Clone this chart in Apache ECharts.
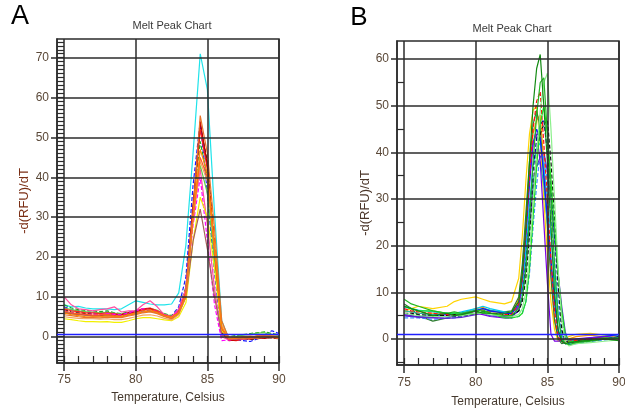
<!DOCTYPE html>
<html lang="en">
<head>
<meta charset="UTF-8">
<title>Melt Peak Chart</title>
<script src="https://cdn.jsdelivr.net/npm/echarts@6/dist/echarts.min.js"></script>
<style>
  html, body { margin: 0; padding: 0; background: #fff; }
  #main { width: 625px; height: 411px; }
</style>
</head>
<body>
<div id="main"></div>
<script type="text/javascript">
// ---- panel A: temperature steps and -d(RFU)/dT per well ----
const tempA = [75, 75.5, 76, 76.5, 77, 77.5, 78, 78.5, 79, 79.5, 80, 80.5, 81, 81.5, 82, 82.5,
               83, 83.5, 84, 84.5, 85, 85.5, 86, 86.5, 87, 87.5, 88, 88.5, 89, 89.5, 90];
const aCyan     = [8, 7.5, 7.6, 7.2, 7, 7, 7, 6.8, 7, 8, 9, 8.6, 8.2, 8, 8, 8.2, 11, 23, 46, 71, 62, 31, 4, -0.5, -0.3, -0.5, -0.4, -0.2, 0, 0.3, 0.2];
const aBlack    = [6.8, 6.2, 6, 5.8, 5.7, 5.6, 5.7, 5.5, 5.4, 5.8, 6.2, 6.8, 7, 6.4, 5.6, 5.1, 6.4, 11.5, 32, 53, 44, 23, 1.5, -0.8, -0.6, -0.4, -0.7, -0.5, -0.2, -0.3, -0.5];
const aBlue     = [7.5, 6.8, 6.5, 6.2, 6, 6, 6.2, 5.8, 5.5, 5.8, 6.2, 6.5, 6.5, 6, 5.5, 5.2, 7.5, 15, 38, 54, 36, 16, 0, -0.6, -0.8, -1, -1.2, -0.5, 0.5, 1.5, 0.8];
const aGreen    = [8, 7.2, 6.8, 6.6, 6.5, 6.3, 6.5, 6, 5.8, 6.2, 6.5, 7, 6.8, 6.4, 5.8, 5.3, 6.8, 12.5, 33, 49, 40, 21, 1.5, 0, 0.3, 0.5, 0.8, 1, 1.2, 0.8, 0.5];
const aLime     = [7.2, 6.8, 6.5, 6.3, 6.2, 6, 6.1, 5.9, 5.7, 6, 6.4, 6.9, 7.1, 6.6, 5.7, 5.1, 6.3, 11, 30, 43, 36, 19, 1, -0.2, 0, 0.4, 0.6, 0.9, 1, 0.6, 0.3];
const aRed      = [7, 6.5, 6.3, 6, 6, 5.8, 6, 5.8, 5.5, 6, 6.5, 7, 7.2, 6.5, 5.5, 5, 6.5, 12, 33, 52, 42, 22, 2, -0.8, -1, -0.6, -0.3, -0.5, -0.2, 0, -0.3];
const aDarkRed  = [6, 5.8, 5.6, 5.5, 5.2, 5.3, 5.5, 5.4, 5.6, 6, 6.2, 6.8, 7, 6.2, 5.2, 4.6, 6, 11, 32, 54, 43, 22, 1, -1, -0.8, -0.5, -0.6, -0.3, -0.4, -0.2, -0.5];
const aPink     = [10, 8, 7, 6.8, 6.5, 6.8, 7, 7.5, 6.2, 6.5, 6.5, 8, 9, 7.5, 5.5, 5, 7, 12, 30, 42, 28, 12, 0, -0.8, -0.5, -0.6, -0.3, 0.2, 0.5, 0.3, 0];
const aMagenta  = [6.5, 6, 5.8, 5.5, 5.6, 5.5, 5.8, 5.6, 5.5, 6, 6.5, 7, 6.8, 6.3, 5.5, 5, 6.5, 11, 28, 40, 24, 8, -1, -0.8, -0.6, -0.4, -0.5, -0.2, 0, -0.1, -0.3];
const aYellow   = [4.5, 4.3, 4, 3.8, 3.8, 3.7, 3.8, 3.6, 3.6, 4, 4.5, 4.8, 4.8, 4.5, 4.2, 4, 5, 8.5, 24, 35, 30, 17, 1.5, -0.3, -0.5, -0.2, 0, -0.3, 0, 0.2, 0];
const aRosy     = [6.2, 5.8, 5.6, 5.4, 5.2, 5.2, 5.3, 5.1, 5, 5.4, 5.8, 6.2, 6.4, 6, 5.2, 4.7, 5.8, 10, 24, 32, 22, 10, 0.5, -0.5, -0.6, -0.4, -0.5, -0.3, -0.2, 0, -0.2];
const aSalmon   = [5, 4.8, 4.6, 4.5, 4.5, 4.4, 4.5, 4.3, 4.3, 4.6, 5, 5.4, 5.5, 5.2, 4.6, 4.2, 5.5, 10, 29, 44, 39, 22, 3, 0, -0.2, 0, 0.2, -0.1, 0, 0.2, -0.1];
const aOrangeRd = [6.5, 6, 5.8, 5.6, 5.4, 5.5, 5.6, 5.3, 5.2, 5.6, 6, 6.6, 6.8, 6.2, 5.4, 4.9, 6.2, 11, 30, 45, 40, 22, 2, -0.6, -0.4, -0.2, -0.5, 0, 0.3, -0.2, -0.4];
const aOrange   = [6, 5.5, 5.3, 5, 5, 5, 5.2, 5, 5, 5.5, 5.8, 6.2, 6.5, 6, 5.2, 4.8, 6, 10.5, 30, 47, 41, 23, 2.5, -0.5, -0.3, 0, -0.2, 0.3, 0.5, 0.2, -0.2];
const aDkOrange = [5.5, 5.3, 5, 4.8, 4.8, 4.7, 4.9, 4.8, 4.8, 5.2, 5.5, 6, 6.2, 5.8, 5, 4.5, 5.8, 10, 31, 55.5, 46, 27, 4, -0.5, -0.2, -0.4, 0, -0.3, 0.2, 0, -0.4];

// ---- panel B ----
const tempB = [75, 75.5, 76, 77, 78, 78.5, 79, 80, 80.5, 81, 82, 82.5, 83, 83.25, 83.5, 83.75,
               84, 84.25, 84.5, 84.75, 85, 85.25, 85.5, 85.75, 86, 86.25, 86.5, 87, 88, 89, 90];
const bDkGreen  = [7, 6.5, 6, 5, 5.5, 5, 5.2, 6, 5.5, 5.5, 5.5, 5.8, 8, 14, 24, 38, 50, 58, 61, 50, 38, 24, 10, 2, -0.5, -1, -0.8, -0.6, -0.3, 0, -0.4];
const bGreen    = [8.5, 7.5, 7, 6, 5.5, 5.8, 5.5, 6, 6.2, 5.5, 5, 5, 6.5, 9, 15, 26, 38, 48, 55, 56, 44, 30, 16, 5, 0, -1, -1.2, -0.8, -0.5, 0, 0.3];
const bLtGreen  = [5.5, 5.2, 5, 4.8, 4.8, 5, 5, 5.5, 5.5, 5.2, 5, 4.8, 5.2, 6.5, 10, 18, 30, 40, 49, 55, 57, 45, 30, 15, 4, -0.5, -1.5, -1, -0.8, -0.5, -0.2];
const bBrGreen  = [7, 6.5, 6, 6, 5.5, 5.5, 5.2, 5.5, 5.8, 5.5, 4.5, 4.5, 4.8, 5.5, 8, 15, 26, 37, 46, 50, 44, 34, 24, 14, 6, 1, -0.5, -0.6, -0.3, 0.2, 0];
const bYellow   = [6, 6.5, 7, 6.5, 7, 8, 8.5, 9, 8.5, 8, 7.5, 8, 13, 22, 34, 44, 49, 50, 42, 30, 18, 8, 2, -0.5, -0.5, 0, 0.5, 1, 1.2, 0.8, 0.3];
const bOrange   = [6, 5.8, 5.5, 5.5, 5.5, 5.2, 5.5, 6.5, 6.8, 6, 5.5, 5.5, 8.5, 15, 25, 36, 44, 47, 48, 38, 26, 14, 4, 0, -0.5, -0.3, 0, 0.5, 0.8, 0.4, 0];
const bRed      = [6.5, 6, 5.8, 5.5, 5.2, 5, 5.2, 6, 6.2, 5.6, 5.2, 5.2, 7.5, 13, 23, 35, 45, 51, 53, 42, 30, 17, 6, 0.5, -0.6, -0.8, -0.5, -0.3, 0, 0.2, -0.2];
const bBlue     = [5, 4.8, 4.8, 5, 5.2, 5, 5.2, 6, 6.5, 6, 5.5, 5.4, 7.5, 13, 22, 33, 42, 45, 43, 35, 26, 17, 8, 1.5, -0.5, -1, -0.8, -0.5, 0, 0.5, 1];
const bNavy     = [5.5, 5.2, 5, 5, 4.8, 4.8, 5, 5.5, 5.8, 5.5, 5.2, 5, 6, 9, 16, 26, 36, 43, 46, 47, 40, 32, 22, 12, 4, 0, -0.8, -0.5, -0.2, 0, 0.5];
const bPurple   = [5.2, 5, 4.8, 4.6, 4.8, 5, 5, 5.5, 5.2, 4.8, 4.5, 4.5, 7, 13, 24, 35, 42, 44, 38, 25, 12, 1, -0.5, -0.5, -0.3, 0, -0.2, 0, 0.3, 0.5, 0.2];
const bBlack    = [5.5, 5.5, 5.2, 5, 5, 5.2, 5, 5.5, 5.8, 5.5, 5.2, 5.2, 6, 8, 13, 22, 32, 40, 44, 46, 47, 38, 26, 12, 2, -0.5, -0.8, -0.5, -0.3, 0, 0.2];
const bCyan     = [6.8, 6.5, 6.2, 5.8, 5.5, 5.5, 5.8, 6.5, 7, 6.5, 5.8, 5.5, 7, 11, 19, 29, 37, 41, 42, 37, 30, 22, 13, 5, 0, -0.8, -1, -0.6, -0.4, 0, 0.4];
const bSkyBlue  = [4.5, 4.5, 4.5, 4.2, 4.5, 4.5, 4.8, 5.5, 5.5, 5, 4.5, 4.5, 4.8, 5.5, 8, 14, 24, 33, 40, 39, 34, 26, 17, 8, 1, -1, -1.3, -1, -0.6, -0.2, 0];
const bDkGreen2 = [7.5, 6.5, 5, 3.8, 4.5, 5, 5.5, 5.5, 5.8, 6, 5.8, 6, 9, 16, 27, 38, 46, 49, 45, 35, 24, 13, 4, 0, -1, -0.8, -0.5, -0.2, 0, 0.3, 0.1];
const bTeal     = [6, 5.8, 5.5, 5.2, 5.5, 5.4, 5.6, 6.2, 6.5, 6.2, 5.6, 5.5, 7, 11, 18, 27, 34, 37, 38, 33, 25, 16, 8, 2, -0.4, -0.6, -0.4, -0.2, 0.2, 0.6, 0.8];
const bViolet   = [5, 4.8, 4.6, 4.5, 4.4, 4.5, 4.6, 5.2, 5.5, 5, 4.8, 4.8, 6, 9, 15, 24, 32, 37, 39, 40, 36, 30, 22, 14, 7, 1.5, -0.8, -0.6, -0.3, 0, -0.2];

// ---- axes ----
const xMajor = [75, 80, 85, 90];
const yMajorA = [0, 10, 20, 30, 40, 50, 60, 70];
const yMajorB = [0, 10, 20, 30, 40, 50, 60];
const yMinorB = [-5, 5, 15, 25, 35, 45, 55];
const thresholdA = 0.7;
const thresholdB = 0.9;

let xMinor = [];
for (let t = 75; t <= 90; t++) xMinor.push(t);
let yMinorA = [];
for (let v = -6; v <= 74; v++) yMinorA.push(v);

const FONT = 'Liberation Sans, Arial, sans-serif';
const DARK = '#2b2b2b';
const LABEL = '#5a4838';

const grids = [
  {left: 57, top: 39, width: 222, height: 324},
  {left: 397, top: 41, width: 222, height: 324}
];

function xAxes(g, nameGap, margin) {
  return [{
    type: 'value', gridIndex: g, position: 'bottom', min: 74.5, max: 90,
    axisLine: {show: true, onZero: false, lineStyle: {color: DARK, width: 1.5}},
    axisTick: {show: true, inside: false, length: 8, customValues: xMajor, lineStyle: {color: DARK, width: 1.5}},
    axisLabel: {show: true, customValues: xMajor, margin: margin, fontSize: 12, color: LABEL, fontFamily: FONT},
    splitLine: {show: false},
    name: 'Temperature, Celsius', nameLocation: 'middle', nameGap: nameGap,
    nameTextStyle: {fontSize: 12, color: '#45392e', fontFamily: FONT}
  }, {
    type: 'value', gridIndex: g, position: 'bottom', min: 74.5, max: 90,
    axisLine: {show: false, onZero: false},
    axisTick: {show: true, inside: true, length: 7, customValues: xMinor, lineStyle: {color: DARK, width: 1.2}},
    axisLabel: {show: false},
    splitLine: {show: false}
  }];
}

function yAxes(g, ymin, ymax, major, minor, nameGap, nameColor) {
  return [{
    type: 'value', gridIndex: g, position: 'left', min: ymin, max: ymax,
    axisLine: {show: true, onZero: false, lineStyle: {color: DARK, width: 1.5}},
    axisTick: {show: true, inside: false, length: 6, customValues: major, lineStyle: {color: DARK, width: 1.5}},
    axisLabel: {show: true, customValues: major, margin: 8, fontSize: 12, color: LABEL, fontFamily: FONT},
    splitLine: {show: false},
    name: '-d(RFU)/dT', nameLocation: 'middle', nameGap: nameGap, nameRotate: 90,
    nameTextStyle: {fontSize: 13, color: nameColor, fontFamily: FONT}
  }, {
    type: 'value', gridIndex: g, position: 'left', min: ymin, max: ymax,
    axisLine: {show: false, onZero: false},
    axisTick: {show: true, inside: true, length: 7, customValues: minor, lineStyle: {color: DARK, width: 1.2}},
    axisLabel: {show: false},
    splitLine: {show: false}
  }];
}

// gridlines and the blue threshold, drawn through the axes
function gridSeries(xi, yi, yMajor, thr) {
  return {
    type: 'line', xAxisIndex: xi, yAxisIndex: yi, data: [[80, 30]], symbol: 'none',
    lineStyle: {opacity: 0}, silent: true, z: 1,
    markLine: {
      symbol: ['none', 'none'], silent: true, animation: false, label: {show: false},
      emphasis: {disabled: true},
      lineStyle: {color: DARK, width: 1.5, type: 'solid'},
      data: xMajor.map(v => ({xAxis: v}))
        .concat(yMajor.map(v => ({yAxis: v})))
        .concat([{yAxis: thr, lineStyle: {color: '#2020ff', width: 1.3, type: 'solid'}}])
    }
  };
}

function curve(temps, vals, color, dashed, xi, yi) {
  return {
    type: 'line', xAxisIndex: xi, yAxisIndex: yi, symbol: 'none', silent: true, z: 3,
    data: temps.map((t, i) => [t, vals[i]]),
    lineStyle: {color: color, width: 1.2, type: dashed ? [4, 2] : 'solid'},
    itemStyle: {color: color}
  };
}

const seriesA = [
  [aCyan, '#1fe3ea', false], [aBlack, '#222222', true], [aBlue, '#1a1aff', true],
  [aGreen, '#1ea81e', true], [aLime, '#62d244', false], [aRed, '#ff2020', false],
  [aDarkRed, '#c00000', false], [aPink, '#ff4fa3', false], [aMagenta, '#ff00ff', true],
  [aYellow, '#f2f000', false], [aRosy, '#a8605a', false], [aSalmon, '#f4a460', false],
  [aOrangeRd, '#ff5a1e', false], [aOrange, '#ff8a00', false], [aDkOrange, '#e8742a', false]
].map(s => curve(tempA, s[0], s[1], s[2], 0, 0));

const seriesB = [
  [bYellow, '#ffd400', false], [bOrange, '#ff9a00', false], [bDkGreen2, '#2e7d32', false],
  [bTeal, '#20b2aa', false], [bCyan, '#00c8f0', false], [bSkyBlue, '#3a8cff', true],
  [bBlue, '#1010ff', false], [bPurple, '#7a00e6', false], [bViolet, '#5a2ad0', false],
  [bNavy, '#000090', true], [bBlack, '#101010', true], [bRed, '#ff1010', true],
  [bBrGreen, '#20e020', false], [bLtGreen, '#8cf08c', false], [bGreen, '#22b822', false],
  [bDkGreen, '#128a12', false]
].map(s => curve(tempB, s[0], s[1], s[2], 2, 2));

let myChart = echarts.init(document.getElementById('main'), null, {renderer: 'canvas'});
option = {
  animation: false,
  backgroundColor: '#ffffff',
  grid: grids.map(g => Object.assign({
    show: true, borderColor: DARK, borderWidth: 1.5, outerBoundsMode: 'none', containLabel: false
  }, g)),
  xAxis: xAxes(0, 29, 11).concat(xAxes(1, 31, 12)),
  yAxis: yAxes(0, -6.6, 74.7, yMajorA, yMinorA, 26, '#7a2e14')
    .concat(yAxes(1, -5.6, 63.9, yMajorB, yMinorB, 20, '#4a3528')),
  graphic: [
    {type: 'text', x: 20, y: 17, style: {text: 'A', font: '27px ' + FONT, fill: '#000', textAlign: 'center', textVerticalAlign: 'middle'}},
    {type: 'text', x: 359, y: 18, style: {text: 'B', font: '26px ' + FONT, fill: '#000', textAlign: 'center', textVerticalAlign: 'middle'}},
    {type: 'text', x: 172, y: 26, style: {text: 'Melt Peak Chart', font: '11px ' + FONT, fill: '#3a3a3a', textAlign: 'center', textVerticalAlign: 'middle'}},
    {type: 'text', x: 512, y: 29, style: {text: 'Melt Peak Chart', font: '11px ' + FONT, fill: '#3a3a3a', textAlign: 'center', textVerticalAlign: 'middle'}}
  ],
  series: [gridSeries(0, 0, yMajorA, thresholdA), gridSeries(2, 2, yMajorB, thresholdB)]
    .concat(seriesA).concat(seriesB)
};
myChart.setOption(option);
</script>
</body>
</html>
